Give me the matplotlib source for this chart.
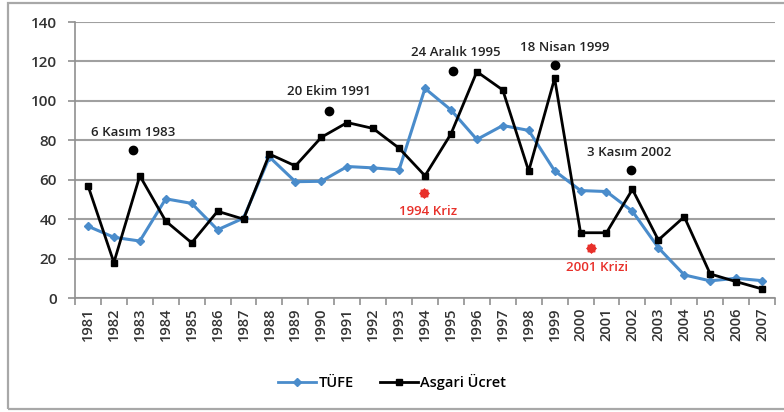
import matplotlib
matplotlib.use("Agg")
import matplotlib.pyplot as plt
from matplotlib.patches import Rectangle
from matplotlib.lines import Line2D

years = [str(y) for y in range(1981, 2008)]
tufe = [36.4, 30.8, 28.9, 50.3, 48.0, 34.6, 40.5, 71.5, 59.0, 59.2, 66.7, 66.0, 65.0,
        106.3, 95.4, 80.4, 87.5, 85.0, 64.5, 54.5, 54.0, 44.0, 25.5, 11.7, 8.7, 10.0, 8.8]
asgari = [57.0, 18.0, 62.0, 39.0, 28.0, 44.0, 40.0, 73.0, 67.0, 81.5, 89.0, 86.0, 76.0,
          62.0, 83.2, 114.8, 105.5, 64.4, 111.4, 33.1, 33.1, 55.1, 29.4, 41.2, 12.2, 8.3, 4.6]

event_labels = ["6 Kasım 1983", "20 Ekim 1991", "24 Aralık 1995", "18 Nisan 1999", "3 Kasım 2002"]
event_x = [1.74, 9.29, 14.08, 18.0, 20.93]
event_y = [75, 95, 115.3, 118.2, 65]
event_label_x = [1.74, 9.29, 14.19, 18.4, 20.86]
event_label_y = [83.7, 104.5, 124.3, 127.3, 73.6]

crisis_labels = ["1994 Kriz", "2001 Krizi"]
crisis_x = [12.96, 19.42]
crisis_y = [53.4, 25.2]
crisis_label_x = [13.11, 19.63]
crisis_label_y = [44.1, 15.7]

W, H = 784, 412
fig = plt.figure(figsize=(W / 100, H / 100), dpi=100)
fig.patch.set_facecolor("white")
fig.patches.append(Rectangle((8 / W, 3 / H), 1.0, (406) / H, transform=fig.transFigure,
                             fill=False, edgecolor="#a8a8a8", linewidth=1.6))

ax = fig.add_axes([75 / W, (H - 298) / H, 700 / W, 276 / H])
fam = ["Open Sans", "DejaVu Sans"]
blue = "#4A8CCB"
x = list(range(len(years)))

ax.set_xlim(-0.5, len(years) - 0.5)
ax.set_ylim(0, 140)
ax.set_yticks(range(0, 141, 20))
ax.yaxis.grid(True, color="#a0a0a0", linewidth=1.5)
ax.set_axisbelow(True)
for s in ["top", "right"]:
    ax.spines[s].set_visible(False)
ax.spines["left"].set_color("#909090")
ax.spines["bottom"].set_color("#909090")
ax.spines["left"].set_linewidth(1.2)
ax.spines["bottom"].set_linewidth(1.2)

ax.set_xticks(x)
ax.set_xticklabels(years, rotation=90, fontsize=10.5, family=fam, color="#333333",
                   fontweight="semibold")
ax.set_xticks([i - 0.5 for i in range(len(years) + 1)], minor=True)
ax.tick_params(axis="x", which="major", length=0, pad=7)
ax.tick_params(axis="x", which="minor", length=5, color="#909090", width=1.2)
ax.tick_params(axis="y", length=5, color="#909090", width=1.2, labelsize=11, pad=8,
               labelcolor="#333333")
for t in ax.get_yticklabels():
    t.set_family(fam)
    t.set_fontweight("semibold")

ax.plot(x, tufe, color=blue, linewidth=2.2, marker="D", markersize=4.5, label="TÜFE", zorder=3)
ax.plot(x, asgari, color="black", linewidth=2.0, marker="s", markersize=5,
        label="Asgari Ücret", zorder=4)

ax.scatter(event_x, event_y, s=36, color="black", zorder=5)
for lbl, lx, ly in zip(event_labels, event_label_x, event_label_y):
    ax.text(lx, ly, lbl, ha="center", va="center", fontsize=9.5, family=fam,
            fontweight="semibold", color="#222222")

ax.scatter(crisis_x, crisis_y, s=45, color="#E8302A", marker=(8, 1, 0), zorder=5)
ax.scatter(crisis_x, crisis_y, s=30, color="#E8302A", marker="o", zorder=5)
for lbl, lx, ly in zip(crisis_labels, crisis_label_x, crisis_label_y):
    ax.text(lx, ly, lbl, ha="center", va="center", fontsize=9.5, family=fam,
            fontweight="semibold", color="#E8302A")

handles = [Line2D([], [], color=blue, linewidth=2, marker="D", markersize=4),
           Line2D([], [], color="black", linewidth=2, marker="s", markersize=4)]
leg = fig.legend(handles, ["TÜFE", "Asgari Ücret"], loc="center",
                 bbox_to_anchor=(392 / W, (H - 382) / H), ncol=2, frameon=False,
                 handlelength=2.6, handletextpad=0.15, columnspacing=1.8,
                 prop={"family": fam, "size": 10.5, "weight": "semibold"})

fig.savefig("out.png", dpi=100)
